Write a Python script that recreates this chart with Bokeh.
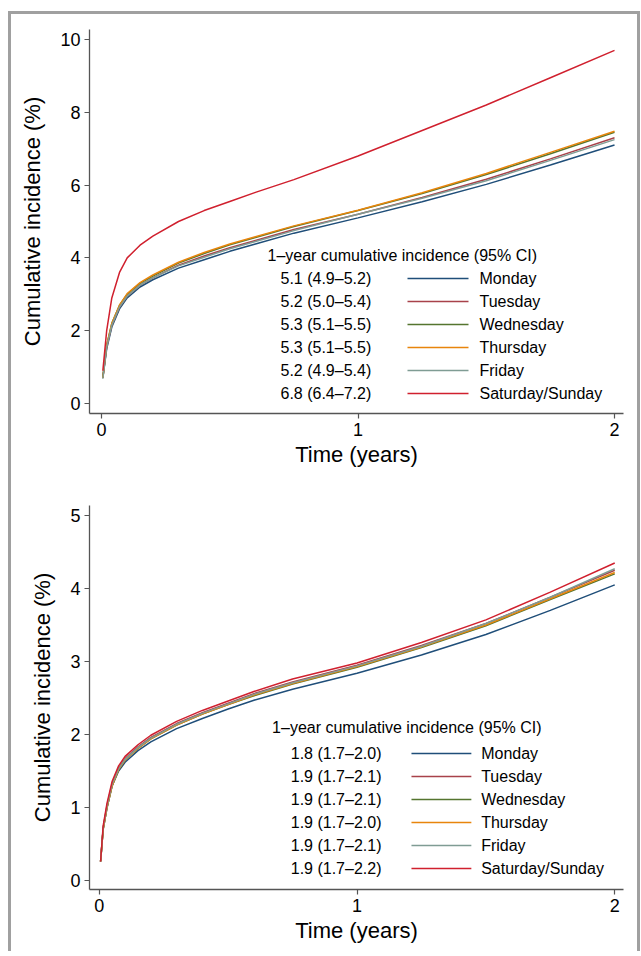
import numpy as np
from bokeh.plotting import figure
from bokeh.layouts import column
from bokeh.models import FixedTicker, Label, ColumnDataSource
from bokeh.embed import file_html
from bokeh.resources import INLINE

FONT = "Liberation Sans"

days = ["Monday", "Tuesday", "Wednesday", "Thursday", "Friday", "Saturday/Sunday"]
colors = ["#1f4e79", "#a8424a", "#55752f", "#e8850c", "#7f9c94", "#d0202e"]

# ---- top panel data ----
t_top = [0.005, 0.02, 0.04, 0.07, 0.1, 0.15, 0.2, 0.3, 0.4, 0.5, 0.6, 0.75, 1.0, 1.25, 1.5, 1.75, 2.0]
mon_top = [0.70, 1.50, 2.10, 2.60, 2.90, 3.20, 3.40, 3.72, 3.95, 4.18, 4.38, 4.68, 5.10, 5.54, 6.02, 6.55, 7.10]
tue_top = [0.70, 1.55, 2.15, 2.65, 2.95, 3.25, 3.45, 3.80, 4.05, 4.28, 4.48, 4.78, 5.20, 5.66, 6.16, 6.72, 7.30]
wed_top = [0.72, 1.60, 2.20, 2.70, 3.00, 3.30, 3.50, 3.86, 4.12, 4.36, 4.56, 4.86, 5.30, 5.77, 6.29, 6.86, 7.45]
thu_top = [0.70, 1.60, 2.20, 2.70, 3.02, 3.32, 3.53, 3.88, 4.15, 4.38, 4.58, 4.88, 5.31, 5.79, 6.32, 6.90, 7.48]
fri_top = [0.68, 1.55, 2.15, 2.65, 2.95, 3.25, 3.45, 3.78, 4.02, 4.25, 4.45, 4.75, 5.20, 5.64, 6.12, 6.68, 7.25]
wkd_top = [0.90, 2.00, 2.90, 3.60, 4.00, 4.35, 4.60, 5.00, 5.30, 5.55, 5.80, 6.15, 6.80, 7.50, 8.20, 8.95, 9.70]
ci_top = ["5.1 (4.9\u20135.2)", "5.2 (5.0\u20135.4)", "5.3 (5.1\u20135.5)",
          "5.3 (5.1\u20135.5)", "5.2 (4.9\u20135.4)", "6.8 (6.4\u20137.2)"]
yticks_top = [0, 2, 4, 6, 8, 10]

# ---- bottom panel data ----
t_bot = [0.005, 0.015, 0.03, 0.05, 0.075, 0.1, 0.15, 0.2, 0.3, 0.4, 0.5, 0.6, 0.75, 1.0, 1.25, 1.5, 1.75, 2.0]
mon_bot = [0.26, 0.70, 1.00, 1.30, 1.50, 1.62, 1.78, 1.90, 2.08, 2.22, 2.35, 2.47, 2.62, 2.84, 3.09, 3.37, 3.70, 4.05]
tue_bot = [0.26, 0.72, 1.03, 1.33, 1.54, 1.67, 1.83, 1.96, 2.15, 2.30, 2.43, 2.56, 2.72, 2.95, 3.22, 3.52, 3.88, 4.25]
wed_bot = [0.26, 0.70, 1.00, 1.30, 1.52, 1.65, 1.81, 1.94, 2.13, 2.28, 2.41, 2.53, 2.69, 2.92, 3.19, 3.49, 3.85, 4.20]
thu_bot = [0.26, 0.70, 1.00, 1.30, 1.52, 1.65, 1.81, 1.94, 2.13, 2.28, 2.41, 2.54, 2.70, 2.93, 3.20, 3.50, 3.86, 4.22]
fri_bot = [0.26, 0.72, 1.02, 1.32, 1.53, 1.66, 1.82, 1.95, 2.14, 2.29, 2.42, 2.55, 2.71, 2.94, 3.21, 3.52, 3.88, 4.27]
wkd_bot = [0.26, 0.75, 1.06, 1.36, 1.57, 1.70, 1.86, 1.99, 2.18, 2.33, 2.46, 2.59, 2.76, 2.98, 3.26, 3.57, 3.95, 4.35]
ci_bot = ["1.8 (1.7\u20132.0)", "1.9 (1.7\u20132.1)", "1.9 (1.7\u20132.1)",
          "1.9 (1.7\u20132.0)", "1.9 (1.7\u20132.1)", "1.9 (1.7\u20132.2)"]
yticks_bot = [0, 1, 2, 3, 4, 5]

xticks = [0, 1, 2]
header = "1\u2013year cumulative incidence (95% CI)"


def make_panel(t, series, ci, yticks, xr, yr, width, height, ml, mr, mt, mb,
               leg_px):
    p = figure(width=width, height=height, x_range=xr, y_range=yr,
               output_backend="svg", toolbar_location=None,
               min_border_left=ml, min_border_right=mr,
               min_border_top=mt, min_border_bottom=mb)
    p.outline_line_color = None
    p.grid.visible = False
    p.background_fill_color = "white"
    p.border_fill_color = "white"
    for ax in (p.xaxis[0], p.yaxis[0]):
        ax.axis_line_color = "#555555"
        ax.axis_line_width = 1.3
        ax.major_tick_line_color = "#555555"
        ax.major_tick_line_width = 1.2
        ax.major_tick_out = 5
        ax.major_tick_in = 0
        ax.minor_tick_line_color = None
        ax.major_label_text_font = FONT
        ax.major_label_text_font_size = "18px"
        ax.major_label_text_color = "black"
        ax.axis_label_text_font = FONT
        ax.axis_label_text_font_size = "22px"
        ax.axis_label_text_font_style = "normal"
        ax.axis_label_text_color = "black"
    p.xaxis.ticker = FixedTicker(ticks=xticks)
    p.yaxis.ticker = FixedTicker(ticks=yticks)
    p.xaxis.axis_label = "Time (years)"
    p.yaxis.axis_label = "Cumulative incidence (%)"
    p.xaxis.major_label_standoff = 4
    p.yaxis.major_label_standoff = 4
    p.xaxis.axis_label_standoff = 3
    p.yaxis.axis_label_standoff = 12

    for ys, c in zip(series, colors):
        p.line(t, ys, line_color=c, line_width=1.5)

    # legend block (positions in page pixels converted to data coords)
    fl, ft = leg_px["frame_left"], leg_px["frame_top"]
    fw = width - ml - mr
    fh = height - mt - mb
    def dx(px):
        return xr[0] + (px - fl) / fw * (xr[1] - xr[0])
    def dy(py):
        return yr[1] - (py - ft) / fh * (yr[1] - yr[0])

    p.add_layout(Label(x=dx(leg_px["hx"]), y=dy(leg_px["hy"]), text=header,
                       text_font=FONT, text_font_size="16px",
                       text_baseline="middle", text_align="left",
                       text_color="black"))
    rows = leg_px["rows"]
    seg = ColumnDataSource(dict(x0=[dx(leg_px["l0"])] * 6, x1=[dx(leg_px["l1"])] * 6,
                                y=[dy(r) for r in rows], c=colors))
    p.segment(x0="x0", y0="y", x1="x1", y1="y", line_color="c", line_width=1.6,
              source=seg)
    for r, v, d in zip(rows, ci, days):
        p.add_layout(Label(x=dx(leg_px["vx"]), y=dy(r), text=v, text_font=FONT,
                           text_font_size="16px", text_baseline="middle",
                           text_color="black"))
        p.add_layout(Label(x=dx(leg_px["dx"]), y=dy(r), text=d, text_font=FONT,
                           text_font_size="16px", text_baseline="middle",
                           text_color="black"))
    return p


W = 626
# page offsets: figure 1 at (11,14), figure 2 at (11,470)
p1 = make_panel(t_top,
                [mon_top, tue_top, wed_top, thu_top, fri_top, wkd_top],
                ci_top, yticks_top, (-0.047, 2.035), (-0.275, 10.275),
                W, 456, 78, 14, 15, 57,
                dict(frame_left=89 - 11, frame_top=29 - 14,
                     hx=267 - 11, hy=255 - 14, vx=280 - 11, dx=479 - 11,
                     l0=407 - 11, l1=468 - 11,
                     rows=[r - 14 for r in [278, 301, 324, 347, 370, 393]]))
p2 = make_panel(t_bot,
                [mon_bot, tue_bot, wed_bot, thu_bot, fri_bot, wkd_bot],
                ci_bot, yticks_bot, (-0.038, 2.034), (-0.123, 5.137),
                W, 481, 68, 14, 35, 62,
                dict(frame_left=79 - 11, frame_top=505 - 470,
                     hx=265 - 11, hy=727 - 470, vx=284 - 11, dx=478 - 11,
                     l0=407 - 11, l1=468 - 11,
                     rows=[r - 470 for r in [753, 776, 799, 822, 845, 868]]))

layout = column(p1, p2, spacing=0,
                styles={"border-top": "3px solid #a0a0a0",
                        "border-left": "3px solid #a0a0a0",
                        "border-right": "3px solid #a0a0a0",
                        "margin-top": "11px",
                        "margin-left": "8px",
                        "background-color": "white"})

open("out.html", "w").write(file_html(layout, INLINE))
